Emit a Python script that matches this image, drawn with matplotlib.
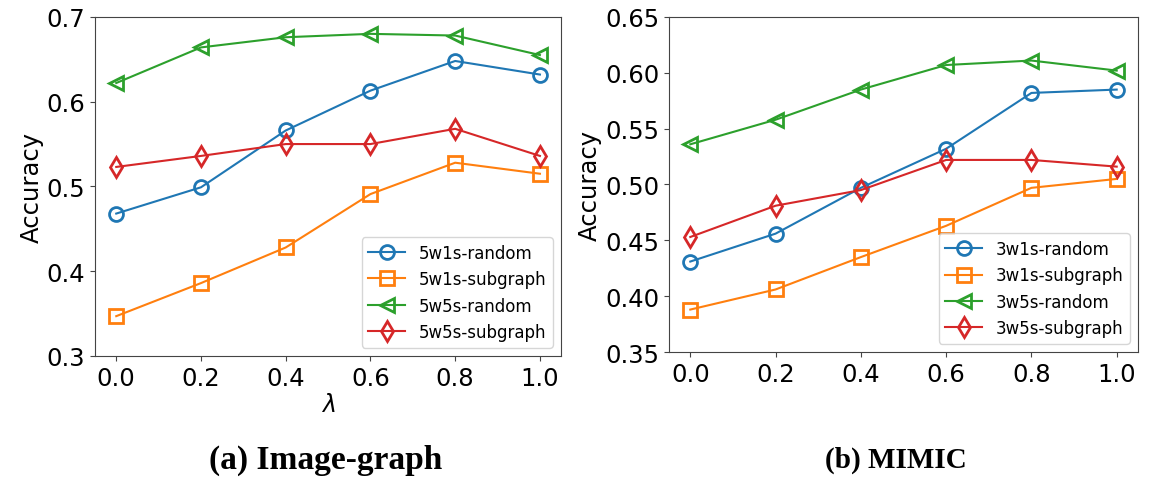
import matplotlib
matplotlib.use("Agg")
import matplotlib.pyplot as plt

lam = [0.0, 0.2, 0.4, 0.6, 0.8, 1.0]
xticks = [0.0, 0.2, 0.4, 0.6, 0.8, 1.0]

img_labels = ["5w1s-random", "5w1s-subgraph", "5w5s-random", "5w5s-subgraph"]
img_1s_random = [0.468, 0.499, 0.566, 0.613, 0.648, 0.632]
img_1s_subgraph = [0.347, 0.386, 0.428, 0.491, 0.528, 0.515]
img_5s_random = [0.622, 0.664, 0.676, 0.680, 0.678, 0.655]
img_5s_subgraph = [0.523, 0.536, 0.550, 0.550, 0.568, 0.536]

mim_labels = ["3w1s-random", "3w1s-subgraph", "3w5s-random", "3w5s-subgraph"]
mim_1s_random = [0.431, 0.456, 0.497, 0.532, 0.582, 0.585]
mim_1s_subgraph = [0.388, 0.406, 0.435, 0.463, 0.497, 0.505]
mim_5s_random = [0.536, 0.558, 0.585, 0.607, 0.611, 0.602]
mim_5s_subgraph = [0.453, 0.481, 0.495, 0.522, 0.522, 0.516]

colors = ["#1f77b4", "#ff7f0e", "#2ca02c", "#d62728"]
markers = ["o", "s", "<", "d"]

fig = plt.figure(figsize=(11.55, 4.81), dpi=100)
ax1 = fig.add_axes([0.0823, 0.2578, 0.4035, 0.705])
ax2 = fig.add_axes([0.5792, 0.2661, 0.4061, 0.6965])

def draw(ax, series, labels, ylim, yticks, yfmt):
    for s, lab, c, m in zip(series, labels, colors, markers):
        ax.plot(lam, s, color=c, marker=m, markersize=10, markerfacecolor="none",
                markeredgewidth=2, linewidth=1.5, label=lab)
    ax.set_ylim(*ylim)
    ax.set_yticks(yticks)
    ax.set_yticklabels([yfmt.format(v) for v in yticks])
    ax.set_xticks(xticks)
    ax.set_xticklabels(["{:.1f}".format(v) for v in xticks])
    ax.tick_params(labelsize=17.5, color="#444444")
    for sp in ax.spines.values():
        sp.set_color("#444444")
    ax.set_ylabel("Accuracy", fontsize=17.5, labelpad=2)
    ax.legend(loc="lower right", fontsize=12, handlelength=2.2)

draw(ax1, [img_1s_random, img_1s_subgraph, img_5s_random, img_5s_subgraph], img_labels,
     (0.3, 0.7), [0.3, 0.4, 0.5, 0.6, 0.7], "{:.1f}")
ax1.set_xlabel(r"$\lambda$", fontsize=17, labelpad=2)
draw(ax2, [mim_1s_random, mim_1s_subgraph, mim_5s_random, mim_5s_subgraph], mim_labels,
     (0.35, 0.65), [0.35, 0.40, 0.45, 0.50, 0.55, 0.60, 0.65], "{:.2f}")

fig.text(0.2823, 0.043, "(a) Image-graph", ha="center", va="center", fontsize=24,
         fontweight="bold", family="Liberation Serif")
fig.text(0.7758, 0.043, "(b) MIMIC", ha="center", va="center", fontsize=21,
         fontweight="bold", family="Liberation Serif")

fig.savefig("out.png", dpi=100)
